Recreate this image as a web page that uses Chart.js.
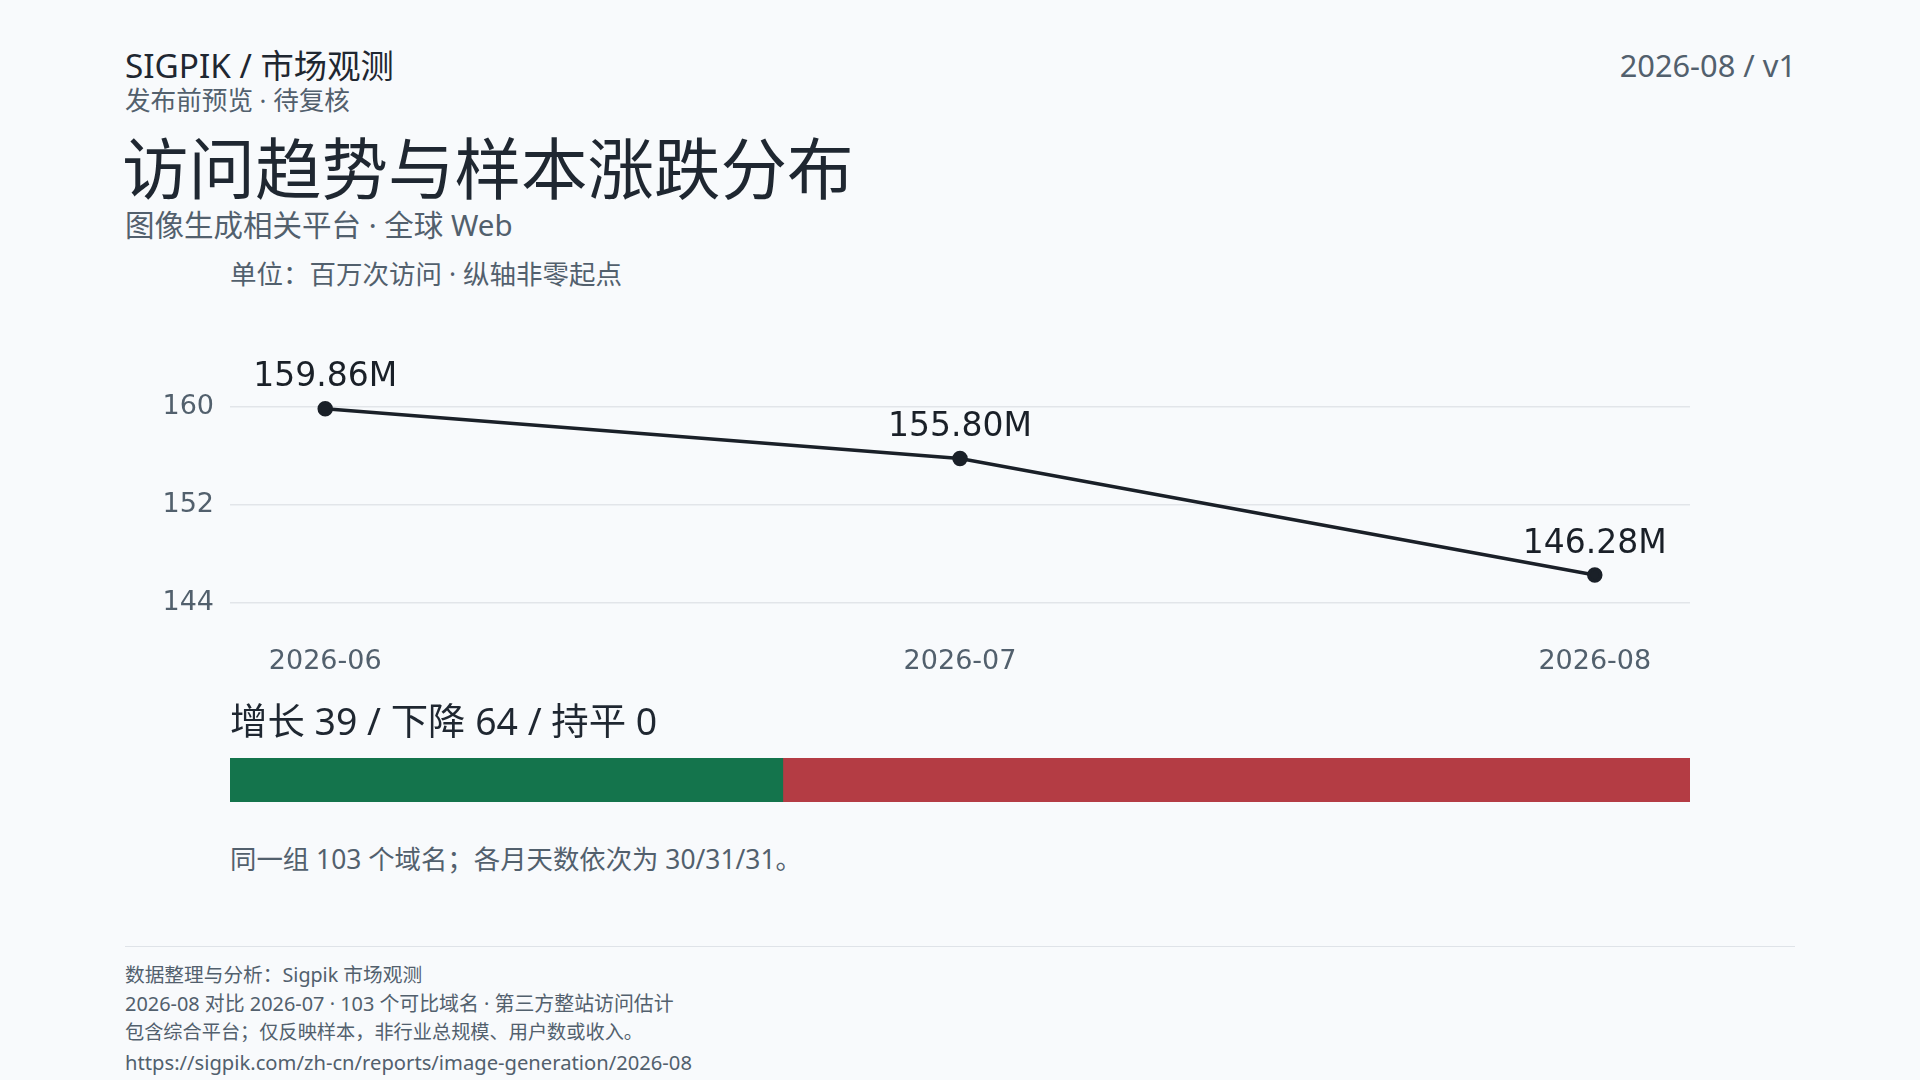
<!DOCTYPE html>
<html>
<head>
<meta charset="utf-8">
<script src="https://cdn.jsdelivr.net/npm/chart.js@4.4.1/dist/chart.umd.min.js"></script>
<style>
  html,body{margin:0;padding:0;}
  body{width:1920px;height:1080px;background:#f8fafc;position:relative;overflow:hidden;
       font-family:"Noto Sans","Noto Sans CJK SC",sans-serif;}
  .t{position:absolute;white-space:nowrap;line-height:1.2;transform:translateY(-50%);}
  #lineWrap{position:absolute;left:0;top:302px;width:1800px;height:400px;}
  #barWrap{position:absolute;left:230px;top:758px;width:1460px;height:44px;}
  #rule{position:absolute;left:125px;top:946px;width:1670px;height:0;border-top:1.5px solid #dfe3e8;}
</style>
</head>
<body>
<div class="t" style="left:125px;top:66px;font-size:33.3px;color:#1f2731;">SIGPIK / 市场观测</div>
<div class="t" style="right:124px;top:65px;font-size:30.8px;color:#52606d;">2026-08 / v1</div>
<div class="t" style="left:125px;top:101px;font-size:25.6px;color:#52606d;">发布前预览 · 待复核</div>
<div class="t" style="left:122px;top:169px;font-size:66.5px;color:#1f2731;">访问趋势与样本涨跌分布</div>
<div class="t" style="left:125px;top:225px;font-size:29.5px;color:#52606d;">图像生成相关平台 · 全球 Web</div>
<div class="t" style="left:230px;top:275px;font-size:26.5px;color:#52606d;">单位：百万次访问 · 纵轴非零起点</div>

<div id="lineWrap"><canvas id="line" width="1800" height="400"></canvas></div>

<div class="t" id="countText" style="left:230px;top:721px;font-size:37.4px;color:#1f2731;"></div>
<div id="barWrap"><canvas id="bar" width="1460" height="44"></canvas></div>
<div class="t" style="left:230px;top:860px;font-size:26.4px;color:#52606d;">同一组 103 个域名；各月天数依次为 30/31/31。</div>

<div id="rule"></div>
<div class="t" style="left:125px;top:975px;font-size:19.7px;color:#52606d;">数据整理与分析：Sigpik 市场观测</div>
<div class="t" style="left:125px;top:1004px;font-size:19.9px;color:#52606d;">2026-08 对比 2026-07 · 103 个可比域名 · 第三方整站访问估计</div>
<div class="t" style="left:125px;top:1032px;font-size:19.2px;color:#52606d;">包含综合平台；仅反映样本，非行业总规模、用户数或收入。</div>
<div class="t" style="left:125px;top:1062px;font-size:20.2px;color:#52606d;">https://sigpik.com/zh-cn/reports/image-generation/2026-08</div>

<script>
// ---- data ----
const months = ["2026-06", "2026-07", "2026-08"];
const visits = [159.86, 155.80, 146.28];           // 百万次访问
const yTicks = [144, 152, 160];
const splitLabels = ["增长", "下降", "持平"];
const splitCounts = [39, 64, 0];
const splitColors = ["#14744c", "#b43c44", "#9aa5b1"];

document.getElementById("countText").textContent =
  splitLabels.map((l, i) => l + " " + splitCounts[i]).join(" / ");

const chartFont = "'DejaVu Sans', sans-serif";

const pointLabels = {
  id: "pointLabels",
  afterDatasetsDraw(chart) {
    const ctx = chart.ctx;
    const meta = chart.getDatasetMeta(0);
    ctx.save();
    ctx.font = "33px " + chartFont;
    ctx.fillStyle = "#1a2028";
    ctx.textAlign = "center";
    ctx.textBaseline = "middle";
    meta.data.forEach((pt, i) => {
      ctx.fillText(visits[i].toFixed(2) + "M", pt.x, pt.y - 31);
    });
    ctx.restore();
  }
};

new Chart(document.getElementById("line"), {
  type: "line",
  data: {
    datasets: [{
      data: months.map((m, i) => ({ x: i, y: visits[i] })),
      borderColor: "#1a2028",
      backgroundColor: "#1a2028",
      borderWidth: 3.5,
      pointRadius: 6,
      pointHoverRadius: 6,
      tension: 0,
      clip: false
    }]
  },
  options: {
    responsive: false,
    animation: false,
    events: [],
    layout: { padding: { left: 0, right: 110, top: 105, bottom: 0 } },
    plugins: { legend: { display: false }, tooltip: { enabled: false } },
    scales: {
      x: {
        type: "linear",
        min: -0.15,
        max: 2.15,
        afterBuildTicks: (s) => { s.ticks = months.map((m, i) => ({ value: i })); },
        afterFit: (s) => { s.height = 99; },
        grid: { display: false, drawTicks: false },
        border: { display: false },
        ticks: {
          padding: 43,
          color: "#52606d",
          font: { family: chartFont, size: 27 },
          callback: (v) => months[v]
        }
      },
      y: {
        min: 144,
        max: 160,
        afterBuildTicks: (s) => { s.ticks = yTicks.map(v => ({ value: v })); },
        afterFit: (s) => { s.width = 230; },
        grid: { color: "#e2e5e9", lineWidth: 1.5, drawTicks: false },
        border: { display: false },
        ticks: {
          padding: 16,
          color: "#52606d",
          font: { family: chartFont, size: 27 }
        }
      }
    }
  },
  plugins: [pointLabels]
});

new Chart(document.getElementById("bar"), {
  type: "bar",
  data: {
    labels: ["样本"],
    datasets: splitLabels.map((l, i) => ({
      label: l,
      data: [splitCounts[i]],
      backgroundColor: splitColors[i],
      borderWidth: 0,
      barPercentage: 1,
      categoryPercentage: 1
    }))
  },
  options: {
    indexAxis: "y",
    responsive: false,
    animation: false,
    events: [],
    layout: { padding: 0 },
    plugins: { legend: { display: false }, tooltip: { enabled: false } },
    scales: {
      x: { stacked: true, display: false, min: 0, max: splitCounts.reduce((a, b) => a + b, 0) },
      y: { stacked: true, display: false }
    }
  }
});
</script>
</body>
</html>
